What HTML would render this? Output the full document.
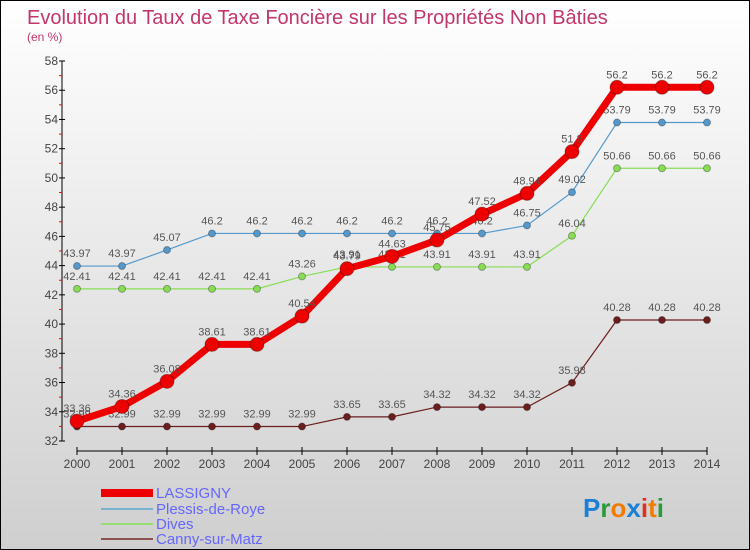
<!DOCTYPE html>
<html><head><meta charset="utf-8"><style>
body{margin:0}
#c{position:relative;width:748px;height:548px;border:1px solid #000;background:linear-gradient(#ffffff,#cfcfcf);font-family:"Liberation Sans",sans-serif;overflow:hidden}
svg{position:absolute;left:0;top:0}
</style></head><body>
<div id="c">
<svg id="s" width="748" height="548">
<text x="26" y="23" font-size="20" fill="#c2366c">Evolution du Taux de Taxe Foncière sur les Propriétés Non Bâties</text>
<text x="26" y="40" font-size="12" fill="#c2366c">(en %)</text>
<g id="g"></g>
<g>
<rect x="100" y="488" width="52" height="8" fill="#ee0000"/>
<text x="155" y="497" font-size="15" fill="#6666ff">LASSIGNY</text>
<rect x="100" y="507" width="52" height="2" fill="#7ab0d0"/>
<text x="155" y="513" font-size="15" fill="#6666ff">Plessis-de-Roye</text>
<rect x="100" y="522" width="52" height="2" fill="#99dd77"/>
<text x="155" y="528" font-size="15" fill="#6666ff">Dives</text>
<rect x="100" y="537" width="52" height="2" fill="#8b5050"/>
<text x="155" y="543" font-size="15" fill="#6666ff">Canny-sur-Matz</text>
</g>
<g font-size="26" font-weight="bold">
<text x="582" y="516"><tspan fill="#1a7fd6">P</tspan><tspan fill="#2a9a3a">r</tspan><tspan fill="#f07d00">o</tspan><tspan fill="#1a7fd6">x</tspan><tspan fill="#e03020">i</tspan><tspan fill="#f07d00">t</tspan><tspan fill="#2a9a3a">i</tspan></text>
</g>
</svg>
</div>
<script>
const years=[2000,2001,2002,2003,2004,2005,2006,2007,2008,2009,2010,2011,2012,2013,2014];
const lassigny=[33.36,34.36,36.08,38.61,38.61,40.54,43.79,44.63,45.75,47.52,48.94,51.8,56.2,56.2,56.2];
const plessis=[43.97,43.97,45.07,46.2,46.2,46.2,46.2,46.2,46.2,46.2,46.75,49.02,53.79,53.79,53.79];
const dives=[42.41,42.41,42.41,42.41,42.41,43.26,43.91,43.91,43.91,43.91,43.91,46.04,50.66,50.66,50.66];
const canny=[32.99,32.99,32.99,32.99,32.99,32.99,33.65,33.65,34.32,34.32,34.32,35.98,40.28,40.28,40.28];
const yTicks=[32,34,36,38,40,42,44,46,48,50,52,54,56,58];
const NS="http://www.w3.org/2000/svg";
const g=document.getElementById('g');
const X=i=>76+i*45, Y=v=>440-(v-32)*(380/26);
function mk(t,a){const e=document.createElementNS(NS,t);for(const k in a)e.setAttribute(k,a[k]);g.appendChild(e);return e;}
let e=mk('line',{x1:61,y1:60,x2:61,y2:440,stroke:'#000'});


e=mk('line',{x1:76,y1:450,x2:706,y2:450,stroke:'#000'});


yTicks.forEach((v,i)=>{
  mk('line',{x1:58,y1:Y(v),x2:64,y2:Y(v),stroke:'#000'});
  if(i<yTicks.length-1)mk('line',{x1:58,y1:Y(v+1),x2:61,y2:Y(v+1),stroke:'#f00'});
  e=mk('text',{x:57,y:Y(v)+4,'font-size':12,fill:'#444','text-anchor':'end'});
  e.textContent=v;
  
  
});
years.forEach((y,i)=>{
  mk('line',{x1:X(i),y1:446,x2:X(i),y2:454,stroke:'#000'});
  e=mk('text',{x:X(i),y:467,'font-size':12,fill:'#444','text-anchor':'middle'});
  e.textContent=y;
  
  
});
function series(d,col,w,r,name){
  e=mk('polyline',{points:d.map((v,i)=>X(i)+','+Y(v)).join(' '),fill:'none',stroke:col,'stroke-width':w});
  
  
  d.forEach((v,i)=>{
    e=mk('circle',{cx:X(i),cy:Y(v),r:r,fill:col,stroke:'rgba(0,0,0,0.3)'});
    
    
    e=mk('text',{x:X(i),y:Y(v)-9,'font-size':11,fill:'#555','text-anchor':'middle'});
    e.textContent=v;
    
    
  });
}
series(canny,'#6b1e1e',1.2,3.5,'canny');
series(dives,'#88dd55',1.2,3.5,'dives');
series(plessis,'#5599cc',1.2,3.5,'plessis');
series(lassigny,'#ee0000',7,7,'lassigny');
</script>
</body></html>
